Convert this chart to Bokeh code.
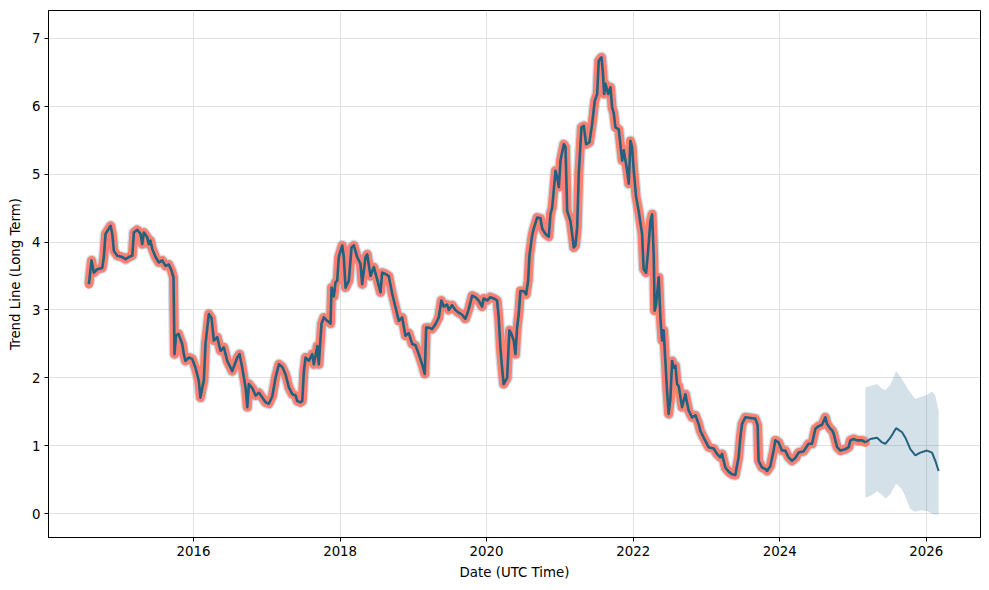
import numpy as np
import pandas as pd
from bokeh.plotting import figure
from bokeh.models import FixedTicker, DatetimeTickFormatter, Range1d
from bokeh.embed import file_html
from bokeh.resources import INLINE

# ---------------- data ----------------
hist_years = [
    2014.572, 2014.608, 2014.640, 2014.686, 2014.754, 2014.776, 2014.799, 2014.868, 2014.891, 2014.913,
    2014.959, 2015.027, 2015.072, 2015.117, 2015.164, 2015.186, 2015.232, 2015.277, 2015.300, 2015.322,
    2015.368, 2015.390, 2015.413, 2015.437, 2015.482, 2015.527, 2015.573, 2015.618, 2015.663, 2015.700,
    2015.727, 2015.741, 2015.761, 2015.795, 2015.846, 2015.868, 2015.891, 2015.936, 2015.982, 2016.027,
    2016.072, 2016.095, 2016.119, 2016.141, 2016.164, 2016.209, 2016.246, 2016.277, 2016.323, 2016.368,
    2016.413, 2016.460, 2016.528, 2016.596, 2016.628, 2016.664, 2016.709, 2016.733, 2016.754, 2016.801,
    2016.846, 2016.891, 2016.937, 2016.982, 2017.027, 2017.074, 2017.119, 2017.164, 2017.210, 2017.255,
    2017.300, 2017.347, 2017.392, 2017.415, 2017.460, 2017.483, 2017.505, 2017.528, 2017.573, 2017.619,
    2017.641, 2017.688, 2017.709, 2017.746, 2017.778, 2017.824, 2017.869, 2017.883, 2017.914, 2017.937,
    2017.960, 2017.982, 2018.029, 2018.050, 2018.074, 2018.119, 2018.156, 2018.187, 2018.233, 2018.278,
    2018.301, 2018.347, 2018.370, 2018.415, 2018.460, 2018.506, 2018.551, 2018.574, 2018.619, 2018.664,
    2018.711, 2018.756, 2018.801, 2018.847, 2018.892, 2018.937, 2018.984, 2019.029, 2019.074, 2019.120,
    2019.156, 2019.175, 2019.210, 2019.256, 2019.302, 2019.347, 2019.383, 2019.415, 2019.461, 2019.483,
    2019.529, 2019.574, 2019.619, 2019.666, 2019.711, 2019.756, 2019.802, 2019.847, 2019.892, 2019.939,
    2019.960, 2020.007, 2020.052, 2020.097, 2020.143, 2020.165, 2020.188, 2020.211, 2020.233, 2020.280,
    2020.311, 2020.338, 2020.370, 2020.393, 2020.416, 2020.438, 2020.461, 2020.506, 2020.539, 2020.566,
    2020.584, 2020.621, 2020.643, 2020.689, 2020.734, 2020.757, 2020.802, 2020.847, 2020.870, 2020.894,
    2020.939, 2020.962, 2020.984, 2021.007, 2021.052, 2021.075, 2021.098, 2021.143, 2021.166, 2021.188,
    2021.211, 2021.235, 2021.256, 2021.293, 2021.325, 2021.357, 2021.402, 2021.439, 2021.475, 2021.508,
    2021.529, 2021.566, 2021.584, 2021.603, 2021.621, 2021.658, 2021.689, 2021.712, 2021.734, 2021.757,
    2021.802, 2021.849, 2021.871, 2021.917, 2021.939, 2021.962, 2021.985, 2022.007, 2022.040, 2022.075,
    2022.121, 2022.143, 2022.176, 2022.203, 2022.235, 2022.258, 2022.280, 2022.293, 2022.312, 2022.348,
    2022.371, 2022.394, 2022.416, 2022.439, 2022.462, 2022.484, 2022.508, 2022.531, 2022.553, 2022.576,
    2022.599, 2022.621, 2022.667, 2022.712, 2022.757, 2022.804, 2022.849, 2022.894, 2022.917, 2022.962,
    2023.030, 2023.098, 2023.145, 2023.190, 2023.213, 2023.258, 2023.303, 2023.349, 2023.394, 2023.439,
    2023.463, 2023.486, 2023.531, 2023.599, 2023.667, 2023.699, 2023.712, 2023.759, 2023.804, 2023.827,
    2023.872, 2023.917, 2023.940, 2023.985, 2024.031, 2024.076, 2024.121, 2024.168, 2024.213, 2024.258,
    2024.326, 2024.394, 2024.441, 2024.486, 2024.531, 2024.577, 2024.622, 2024.645, 2024.690, 2024.714,
    2024.735, 2024.782, 2024.827, 2024.895, 2024.940, 2024.963, 2025.008, 2025.055, 2025.123, 2025.168,
]
hist_trend = [
    3.38, 3.73, 3.55, 3.60, 3.62, 3.78, 4.12, 4.24, 4.12, 3.87,
    3.80, 3.78, 3.75, 3.78, 3.80, 4.14, 4.18, 4.12, 3.97, 4.14,
    4.07, 3.97, 4.02, 3.90, 3.78, 3.70, 3.73, 3.65, 3.67, 3.58,
    3.48, 2.35, 2.62, 2.65, 2.50, 2.35, 2.25, 2.30, 2.28, 2.15,
    1.96, 1.71, 1.85, 1.96, 2.50, 2.94, 2.88, 2.55, 2.60, 2.40,
    2.45, 2.25, 2.10, 2.30, 2.35, 2.15, 1.86, 1.57, 1.91, 1.85,
    1.74, 1.78, 1.71, 1.64, 1.62, 1.73, 2.01, 2.20, 2.16, 2.05,
    1.86, 1.76, 1.74, 1.66, 1.64, 1.66, 2.10, 2.30, 2.25, 2.35,
    2.20, 2.47, 2.20, 2.80, 2.89, 2.84, 2.80, 3.33, 3.20, 3.41,
    3.43, 3.78, 3.95, 3.78, 3.33, 3.43, 3.92, 3.95, 3.78, 3.68,
    3.38, 3.78, 3.82, 3.50, 3.63, 3.45, 3.26, 3.55, 3.53, 3.50,
    3.24, 3.04, 2.84, 2.89, 2.62, 2.66, 2.50, 2.48, 2.35, 2.20,
    2.06, 2.74, 2.74, 2.72, 2.79, 2.89, 3.14, 3.05, 3.08, 3.00,
    3.07, 3.00, 2.96, 2.93, 2.87, 3.01, 3.21, 3.19, 3.14, 3.05,
    3.17, 3.14, 3.19, 3.17, 3.14, 2.89, 2.45, 2.15, 1.91, 2.00,
    2.70, 2.65, 2.55, 2.35, 2.74, 2.94, 3.28, 3.28, 3.23, 3.43,
    3.80, 4.10, 4.20, 4.36, 4.35, 4.20, 4.12, 4.08, 4.41, 4.51,
    5.05, 4.95, 4.81, 5.20, 5.44, 5.40, 4.46, 4.31, 4.12, 3.92,
    3.95, 4.22, 5.00, 5.69, 5.71, 5.44, 5.47, 5.74, 6.08, 6.18,
    6.67, 6.72, 6.52, 6.18, 6.33, 6.18, 6.28, 5.98, 5.90, 5.69,
    5.66, 5.20, 5.35, 5.05, 4.86, 5.49, 5.40, 5.05, 4.66, 4.45,
    4.12, 3.60, 3.55, 3.87, 4.31, 4.41, 3.80, 2.99, 3.08, 3.48,
    2.89, 2.55, 2.70, 2.25, 1.81, 1.47, 1.70, 2.25, 2.15, 2.18,
    1.91, 1.88, 1.57, 1.76, 1.52, 1.42, 1.45, 1.32, 1.22, 1.12,
    0.98, 0.96, 0.88, 0.83, 0.88, 0.68, 0.62, 0.58, 0.57, 0.83,
    1.12, 1.32, 1.42, 1.41, 1.40, 1.30, 0.78, 0.68, 0.66, 0.63,
    0.70, 0.93, 1.08, 1.05, 0.93, 0.93, 0.83, 0.78, 0.82, 0.90,
    0.92, 1.03, 1.03, 1.25, 1.29, 1.31, 1.42, 1.32, 1.25, 1.23,
    1.18, 0.98, 0.93, 0.95, 0.98, 1.08, 1.10, 1.08, 1.08, 1.05,
]

fc_years = [2025.168, 2025.236, 2025.327, 2025.396, 2025.441, 2025.509, 2025.587, 2025.669,
            2025.714, 2025.782, 2025.850, 2025.918, 2026.010, 2026.078, 2026.123, 2026.168]
fc_trend = [1.05, 1.10, 1.12, 1.05, 1.03, 1.12, 1.26, 1.20, 1.12, 0.95, 0.86, 0.90, 0.93, 0.90, 0.78, 0.63]
fc_lower = [0.24, 0.26, 0.33, 0.28, 0.22, 0.29, 0.44, 0.36, 0.25, 0.07, 0.03, 0.05, 0.04, 0.00, -0.01, -0.01]
fc_upper = [1.86, 1.88, 1.91, 1.84, 1.82, 1.90, 2.10, 1.98, 1.90, 1.78, 1.69, 1.72, 1.75, 1.80, 1.74, 1.52]

x_tick_years = [2016, 2018, 2020, 2022, 2024, 2026]
y_ticks = [0, 1, 2, 3, 4, 5, 6, 7]


def to_dt(y):
    yr = int(np.floor(y))
    start = pd.Timestamp(yr, 1, 1)
    end = pd.Timestamp(yr + 1, 1, 1)
    return (start + (end - start) * (y - yr)).to_pydatetime()


def to_ms(y):
    return (pd.Timestamp(to_dt(y)) - pd.Timestamp(1970, 1, 1)).total_seconds() * 1000.0


h_x = [to_dt(v) for v in hist_years]
f_x = [to_dt(v) for v in fc_years]

LINE = "#22617f"
BAND = "#2a6a8c"
SALMON = "#fa8072"
FONT = "DejaVu Sans"

p = figure(width=989, height=590, x_axis_type="datetime",
           output_backend="svg", toolbar_location=None,
           x_range=Range1d(to_dt(2014.02), to_dt(2026.74)),
           y_range=Range1d(-0.35, 7.41),
           min_border_left=48, min_border_right=9,
           min_border_top=10, min_border_bottom=53)

p.background_fill_color = "white"
p.border_fill_color = "white"
p.outline_line_color = "black"
p.outline_line_width = 1

# forecast uncertainty band
p.varea(x=f_x, y1=fc_lower, y2=fc_upper, fill_color=BAND, fill_alpha=0.2)
# historical (narrow) uncertainty band
p.line(h_x, hist_trend, line_color=BAND, line_alpha=0.22, line_width=11.5, line_join="round")
# highlight + trend
p.line(h_x, hist_trend, line_color=SALMON, line_width=9, line_join="round", line_cap="round")
p.line(h_x, hist_trend, line_color=LINE, line_width=2.6, line_join="round")
p.line(f_x, fc_trend, line_color=LINE, line_width=2)

# axes
p.xaxis.ticker = FixedTicker(ticks=[to_ms(y) for y in x_tick_years])
p.xaxis.formatter = DatetimeTickFormatter(years="%Y", months="%Y", days="%Y")
p.yaxis.ticker = FixedTicker(ticks=y_ticks)

for ax in (p.xaxis, p.yaxis):
    ax.axis_line_color = "black"
    ax.major_tick_line_color = "black"
    ax.major_tick_out = 4
    ax.major_tick_in = 0
    ax.minor_tick_line_color = None
    ax.major_label_text_font = FONT
    ax.major_label_text_font_size = "10pt"
    ax.major_label_text_color = "black"
    ax.axis_label_text_font = FONT
    ax.axis_label_text_font_size = "10pt"
    ax.axis_label_text_font_style = "normal"
    ax.axis_label_text_color = "black"
    ax.major_label_standoff = 4
    ax.axis_label_standoff = 6

p.xaxis.axis_label = "Date (UTC Time)"
p.yaxis.axis_label = "Trend Line (Long Term)"

p.xgrid.grid_line_color = "#d9d9d9"
p.ygrid.grid_line_color = "#d9d9d9"
p.xgrid.grid_line_alpha = 0.8
p.ygrid.grid_line_alpha = 0.8

open("out.html", "w").write(file_html(p, INLINE))
